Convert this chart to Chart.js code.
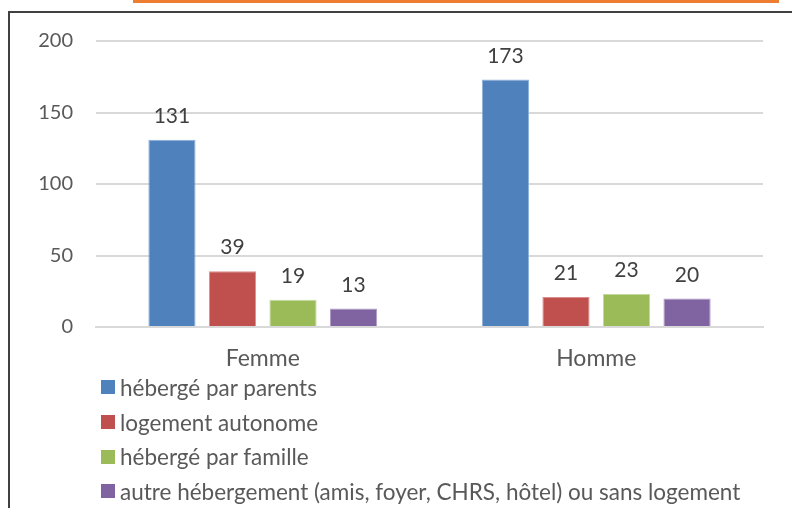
<!DOCTYPE html>
<html>
<head>
<meta charset="utf-8">
<script src="https://cdn.jsdelivr.net/npm/chart.js@4/dist/chart.umd.min.js"></script>
<style>
  body { margin: 0; background: #fff; width: 792px; height: 508px; overflow: hidden; position: relative; font-family: "Lato", sans-serif; }
  #orange { position: absolute; left: 133px; top: 0; width: 646px; height: 3px; background: #ED7D31; }
  #cadre { position: absolute; left: 8px; top: 11px; width: 784px; height: 497px; border-left: 2px solid #404040; border-top: 2px solid #404040; }
  #zone { position: absolute; left: 10px; top: 6px; width: 782px; height: 367px; }
  #legende { position: absolute; left: 101px; top: 370px; }
  .item { height: 34.7px; display: flex; align-items: center; color: #595959; font-size: 22.5px; white-space: nowrap; }
  .carre { width: 14px; height: 14px; margin-right: 5px; }
</style>
</head>
<body>
<div id="orange"></div>
<div id="cadre"></div>
<div id="zone"><canvas id="graphique"></canvas></div>
<div id="legende"></div>
<script>
// Données
const categories = ['Femme', 'Homme'];
const series = [
    'hébergé par parents',
    'logement autonome',
    'hébergé par famille',
    'autre hébergement (amis, foyer, CHRS, hôtel) ou sans logement'
];
const parents = [131, 173];
const autonome = [39, 21];
const famille = [19, 23];
const autre = [13, 20];
const couleurs = ['#4F81BD', '#C0504D', '#9BBB59', '#8064A2'];
const bordures = ['#8FB0D8', '#DC8E8C', '#C3D89B', '#AE9AC6'];

const valeurs = [parents, autonome, famille, autre];

// Étiquettes de valeurs au-dessus des barres
const etiquettes = {
    id: 'etiquettes',
    afterDatasetsDraw(chart) {
        const ctx = chart.ctx;
        ctx.save();
        ctx.font = '21px Lato';
        ctx.fillStyle = '#404040';
        ctx.textAlign = 'center';
        ctx.textBaseline = 'bottom';
        chart.data.datasets.forEach((ds, i) => {
            chart.getDatasetMeta(i).data.forEach((barre, j) => {
                ctx.fillText(ds.data[j], barre.x, barre.y - 13);
            });
        });
        ctx.restore();
    }
};

new Chart(document.getElementById('graphique'), {
    type: 'bar',
    data: {
        labels: categories,
        datasets: series.map((nom, i) => ({
            label: nom,
            data: valeurs[i],
            backgroundColor: couleurs[i],
            borderColor: bordures[i],
            borderWidth: 1,
            categoryPercentage: 0.726,
            barPercentage: 0.78
        }))
    },
    options: {
        responsive: true,
        maintainAspectRatio: false,
        animation: false,
        layout: { padding: { left: 0, right: 29, top: 0, bottom: 0 } },
        plugins: {
            legend: { display: false },
            tooltip: { enabled: false }
        },
        scales: {
            x: {
                grid: { display: false, drawTicks: false },
                border: { color: '#D9D9D9', width: 2 },
                ticks: { color: '#595959', font: { family: 'Lato', size: 23 }, padding: 18 },
                afterFit(axe) { axe.height = 46; }
            },
            y: {
                min: 0,
                max: 200,
                ticks: { stepSize: 50, color: '#595959', font: { family: 'Lato', size: 20 }, padding: 23 },
                grid: { color: '#D9D9D9', lineWidth: 2, drawTicks: false },
                border: { display: false },
                afterFit(axe) { axe.width = 86; }
            }
        }
    },
    plugins: [etiquettes]
});

// Légende verticale
const legende = document.getElementById('legende');
series.forEach((nom, i) => {
    const item = document.createElement('div');
    item.className = 'item';
    item.innerHTML = '<span class="carre" style="background:' + couleurs[i] + '"></span>' + nom;
    legende.appendChild(item);
});
</script>
</body>
</html>
